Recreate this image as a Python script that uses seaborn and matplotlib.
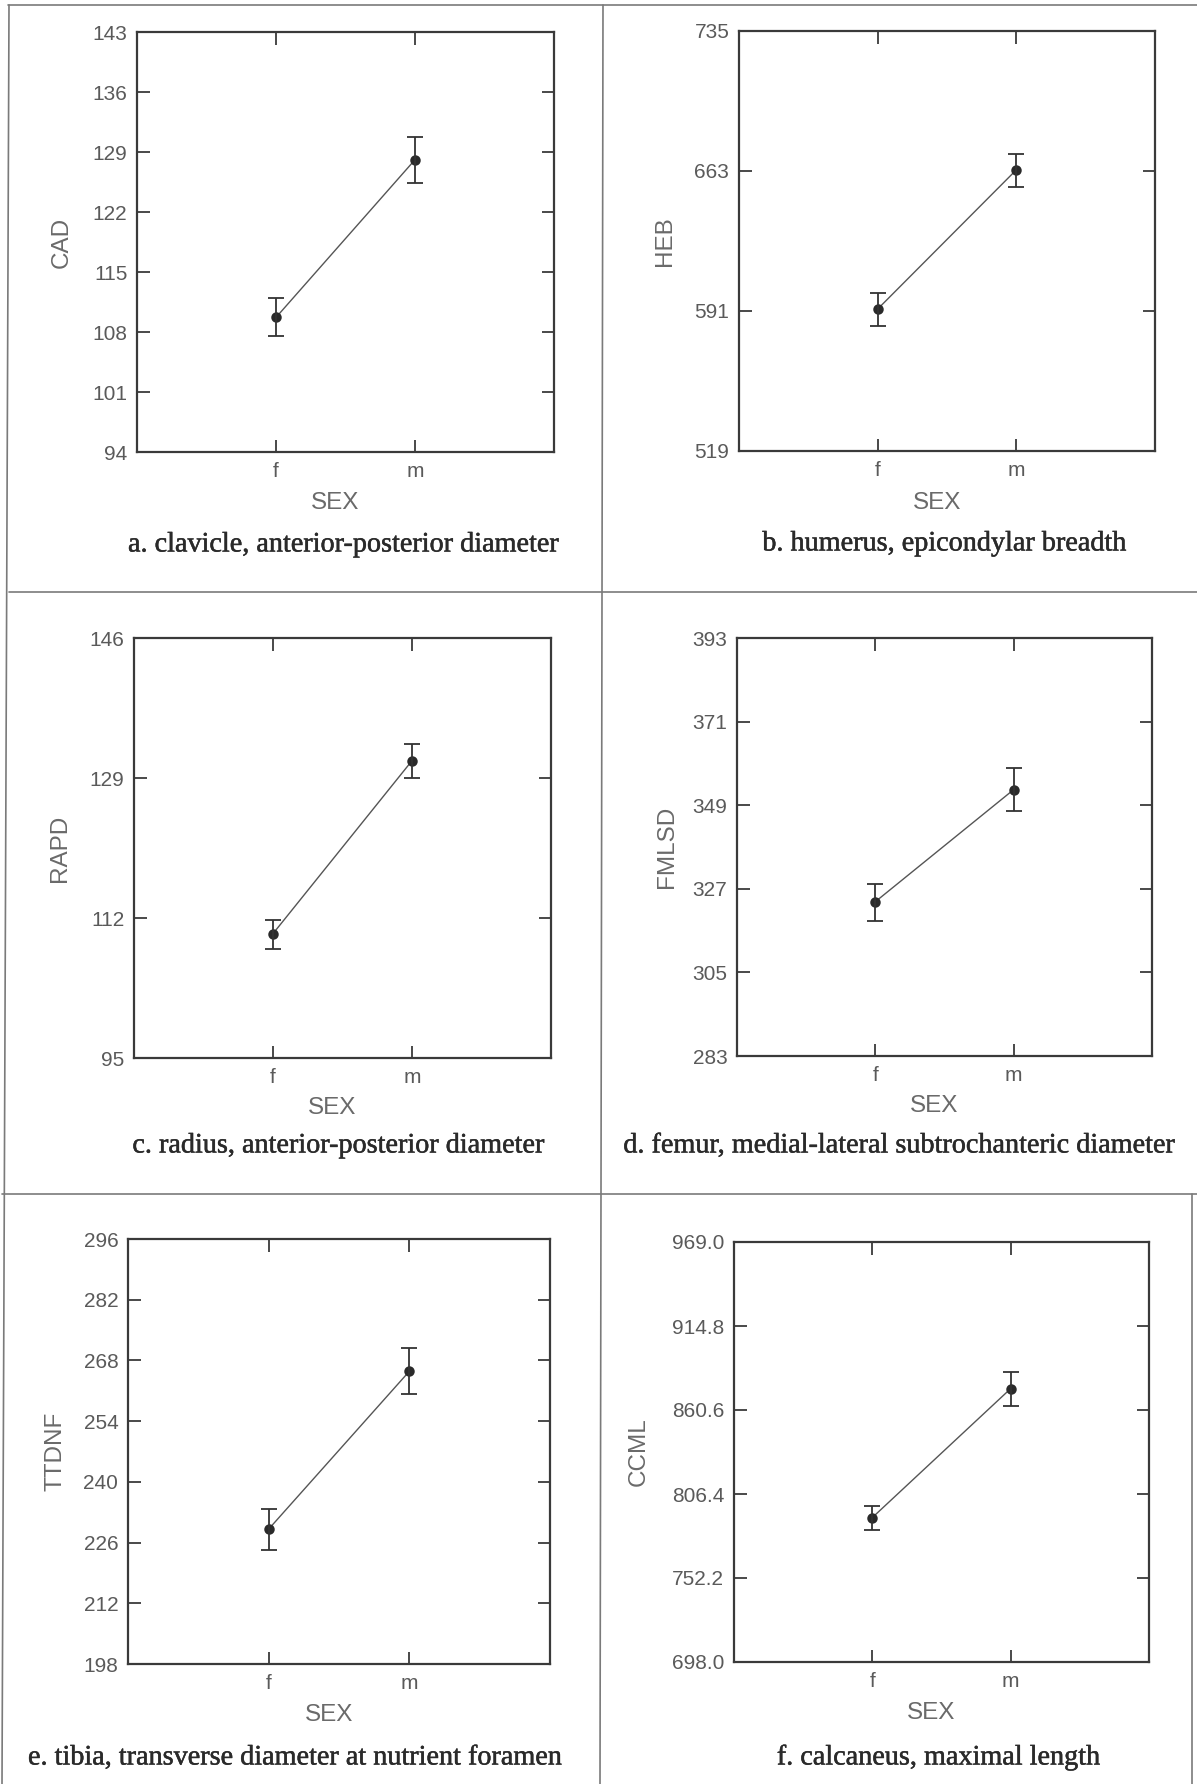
import numpy as np
import pandas as pd
import matplotlib
matplotlib.use("Agg")
import matplotlib.pyplot as plt
from matplotlib.lines import Line2D
import matplotlib.patheffects as pe
import seaborn as sns

# ---------------- data ----------------
sex = ["f", "m"]

cad_mean = [109.7, 128.1]
cad_lo = [107.5, 125.4]
cad_hi = [112.0, 130.8]
cad_ticks = [94, 101, 108, 115, 122, 129, 136, 143]

heb_mean = [592.0, 663.6]
heb_lo = [583.5, 654.7]
heb_hi = [600.3, 671.7]
heb_ticks = [519, 591, 663, 735]

rapd_mean = [110.1, 131.1]
rapd_lo = [108.2, 129.0]
rapd_hi = [111.8, 133.1]
rapd_ticks = [95, 112, 129, 146]

fmlsd_mean = [323.6, 353.1]
fmlsd_lo = [318.5, 347.5]
fmlsd_hi = [328.2, 358.7]
fmlsd_ticks = [283, 305, 327, 349, 371, 393]

ttdnf_mean = [229.1, 265.5]
ttdnf_lo = [224.4, 260.2]
ttdnf_hi = [233.7, 270.8]
ttdnf_ticks = [198, 212, 226, 240, 254, 268, 282, 296]

ccml_mean = [791.2, 874.4]
ccml_lo = [782.9, 862.9]
ccml_hi = [798.8, 884.9]
ccml_ticks = [698.0, 752.2, 806.4, 860.6, 914.8, 969.0]

ylabels = ["CAD", "HEB", "RAPD", "FMLSD", "TTDNF", "CCML"]
captions = [
    "a. clavicle, anterior-posterior diameter",
    "b. humerus, epicondylar breadth",
    "c. radius, anterior-posterior diameter",
    "d. femur, medial-lateral subtrochanteric diameter",
    "e. tibia, transverse diameter at nutrient foramen",
    "f. calcaneus, maximal length",
]

# ---------------- style ----------------
sns.set_style("ticks")
plt.rcParams["font.family"] = ["Liberation Sans", "DejaVu Sans"]

W, H = 1197, 1784
fig = plt.figure(figsize=(W / 100, H / 100), dpi=100)
fig.patch.set_facecolor("white")

# axes boxes in pixels: left, top, right, bottom
boxes = [
    (137, 32, 554, 452),
    (739, 31, 1155, 451),
    (134, 638, 551, 1058),
    (737, 638, 1152, 1056),
    (128, 1239, 550, 1664),
    (734, 1242, 1149, 1662),
]
ylab_x = [62, 665, 60, 667, 55, 639]
sex_y = [503, 503, 1108, 1106, 1715, 1713]
cap_xy = [(344, 545), (945, 544), (339, 1146), (900, 1146), (296, 1758), (939, 1758)]

panels = [
    (cad_mean, cad_lo, cad_hi, cad_ticks, "{:.0f}"),
    (heb_mean, heb_lo, heb_hi, heb_ticks, "{:.0f}"),
    (rapd_mean, rapd_lo, rapd_hi, rapd_ticks, "{:.0f}"),
    (fmlsd_mean, fmlsd_lo, fmlsd_hi, fmlsd_ticks, "{:.0f}"),
    (ttdnf_mean, ttdnf_lo, ttdnf_hi, ttdnf_ticks, "{:.0f}"),
    (ccml_mean, ccml_lo, ccml_hi, ccml_ticks, "{:.1f}"),
]

tick_color = "#5a5a5a"
spine_color = "#3a3a3a"

for i, (mean, lo, hi, ticks, fmt) in enumerate(panels):
    l, t, r, b = boxes[i]
    ax = fig.add_axes([l / W, 1 - b / H, (r - l) / W, (b - t) / H])
    df = pd.DataFrame({"SEX": sex, "value": mean})
    sns.pointplot(data=df, x="SEX", y="value", errorbar=None, color="#2a2a2a",
                  markers="o", linestyles="-", ax=ax)
    for ln in ax.lines:
        ln.set_linewidth(1.0)
        ln.set_color("#555555")
        ln.set_markersize(5.5)
        ln.set_markerfacecolor("#2a2a2a")
        ln.set_markeredgecolor("#2a2a2a")
    for coll in ax.collections:
        coll.set_sizes([30])
        coll.set_facecolor("#2a2a2a")
        coll.set_edgecolor("#2a2a2a")
    m = np.array(mean)
    yerr = [m - np.array(lo), np.array(hi) - m]
    ax.errorbar([0, 1], m, yerr=yerr, fmt="none", ecolor="#333333",
                elinewidth=1.3, capsize=5.5, capthick=1.3, zorder=5)
    ax.set_xlim(-1, 2)
    ax.set_ylim(ticks[0], ticks[-1])
    ax.set_yticks(ticks)
    ax.set_yticklabels([fmt.format(v) for v in ticks])
    ax.set_xticks([0, 1])
    ax.set_xticklabels(sex)
    ax.tick_params(direction="in", length=9, width=1.3, color=spine_color,
                   top=True, right=True, labeltop=False, labelright=False,
                   labelsize=15, labelcolor=tick_color, pad=7)
    for s in ax.spines.values():
        s.set_visible(True)
        s.set_linewidth(1.6)
        s.set_color(spine_color)
    ax.set_xlabel("")
    ax.set_ylabel("")
    # y label
    fig.text(ylab_x[i] / W, 1 - ((t + b) / 2) / H, ylabels[i], rotation=90,
             ha="center", va="center", fontsize=17.5, color="#6a6a6a")
    # x label
    fig.text(((l + r) / 2 - 10) / W, 1 - sex_y[i] / H, "SEX", ha="center",
             va="center", fontsize=17.5, color="#6a6a6a")
    cx, cy = cap_xy[i]
    fig.text(cx / W, 1 - cy / H, captions[i], ha="center", va="center",
             fontsize=20.3, color="#2a2a2a",
             family=["Liberation Serif", "DejaVu Serif"],
             path_effects=[pe.withStroke(linewidth=0.35, foreground="#2a2a2a")])

# page frame lines
frame_color = "#7a7a7a"
lines = [
    ((8, W), (5, 5)),
    ((9, 2), (5, H)),
    ((603, 600), (5, H)),
    ((9, W), (592, 592)),
    ((2, W), (1194, 1194)),
    ((1192, 1192), (1194, H)),
]
for xs, ys in lines:
    fig.add_artist(Line2D([x / W for x in xs], [1 - y / H for y in ys],
                          color=frame_color, linewidth=1.2))

fig.savefig("out.png", dpi=100, facecolor="white")
